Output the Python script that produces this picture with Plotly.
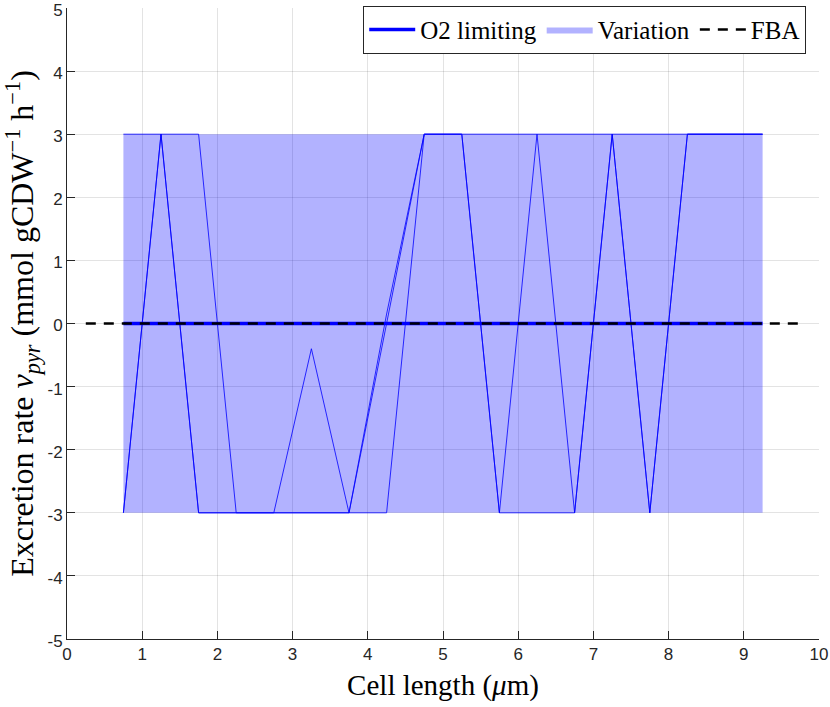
import plotly.graph_objects as go

# cell lengths (um) at which the model was solved
cell_length = [0.75, 1.25, 1.75, 2.25, 2.75, 3.25, 3.75, 4.25, 4.75,
               5.25, 5.75, 6.25, 6.75, 7.25, 7.75, 8.25, 8.75, 9.25]

# O2 limiting optimum
o2_limiting = [0] * len(cell_length)

# flux variability range
var_max = [3] * len(cell_length)
var_min = [-3] * len(cell_length)

# alternative optimal solutions (thin lines)
alt_a = [3, 3, 3, -3, -3, -0.4, -3, 0, 3, 3, -3, 3, -3, 3, -3, 3, 3, 3]
alt_b = [-3, 3, -3, -3, -3, -3, -3, 0.15, 3, 3, 3, 3, 3, 3, 3, 3, 3, 3]
alt_c = [-3, 3, -3, -3, -3, -3, -3, -3, 3, 3, -3, -3, -3, 3, -3, 3, 3, 3]

# FBA reference
fba_length = [0.25, 0.75, 1.25, 1.75, 2.25, 2.75, 3.25, 3.75, 4.25, 4.75,
              5.25, 5.75, 6.25, 6.75, 7.25, 7.75, 8.25, 8.75, 9.25, 9.75]
fba = [0] * len(fba_length)

x_ticks = [0, 1, 2, 3, 4, 5, 6, 7, 8, 9, 10]
y_ticks = [-5, -4, -3, -2, -1, 0, 1, 2, 3, 4, 5]

SERIF = "Liberation Serif"
SANS = "Liberation Sans"
AX = "rgb(38,38,38)"

fig = go.Figure()

fig.add_trace(go.Scatter(
    x=cell_length + cell_length[::-1],
    y=var_max + var_min[::-1],
    fill="toself",
    fillcolor="rgba(0,0,255,0.3)",
    line=dict(width=0),
    mode="lines",
    name="Variation",
    legendrank=2,
))

for alt in (alt_a, alt_b, alt_c):
    fig.add_trace(go.Scatter(
        x=cell_length, y=alt, mode="lines",
        line=dict(color="rgb(0,0,255)", width=0.8),
        showlegend=False,
    ))

fig.add_trace(go.Scatter(
    x=cell_length, y=o2_limiting, mode="lines",
    line=dict(color="rgb(0,0,255)", width=3.5),
    name="O2 limiting",
    legendrank=1,
))

fig.add_trace(go.Scatter(
    x=fba_length, y=fba, mode="lines",
    line=dict(color="black", width=2.5, dash="10px,8px"),
    name="FBA",
    legendrank=3,
))

fig.update_layout(
    width=830, height=707,
    plot_bgcolor="white", paper_bgcolor="white",
    margin=dict(l=67, r=11, t=7, b=68),
    font=dict(family=SANS, size=17, color=AX),
    showlegend=True,
    legend=dict(
        orientation="h",
        x=0.983, y=1.002, xanchor="right", yanchor="top",
        bgcolor="white", bordercolor=AX, borderwidth=1,
        font=dict(family=SERIF, size=25, color="black"),
        itemwidth=46,
        tracegroupgap=0,
    ),
    xaxis=dict(
        range=[0, 10], automargin=False, ticklabeloverflow="allow",
        tickvals=x_ticks, ticktext=[str(v) for v in x_ticks],
        ticks="inside", ticklen=8, tickcolor=AX,
        showline=True, linecolor=AX, linewidth=1,
        showgrid=True, gridcolor="rgba(38,38,38,0.13)", gridwidth=1,
        zeroline=False,
        title=dict(text="Cell length (<i>μ</i>m)",
                   font=dict(family=SERIF, size=29, color="black"),
                   standoff=11),
    ),
    yaxis=dict(
        range=[-5, 5], automargin=False, ticklabeloverflow="allow",
        tickvals=y_ticks, ticktext=[str(v) for v in y_ticks],
        ticklabelshift=2,
        ticks="inside", ticklen=8, tickcolor=AX,
        showline=True, linecolor=AX, linewidth=1,
        showgrid=True, gridcolor="rgba(38,38,38,0.13)", gridwidth=1,
        zeroline=False,
        title=dict(text="Excretion rate <i>v</i><sub><i>pyr</i></sub> "
                        "(mmol gCDW<sup>−1</sup> h<sup>−1</sup>)",
                   font=dict(family=SERIF, size=32, color="black"),
                   standoff=6),
    ),
)

fig.write_html("out.html", config={"displayModeBar": False},
               post_script="document.body.style.margin='0';")
